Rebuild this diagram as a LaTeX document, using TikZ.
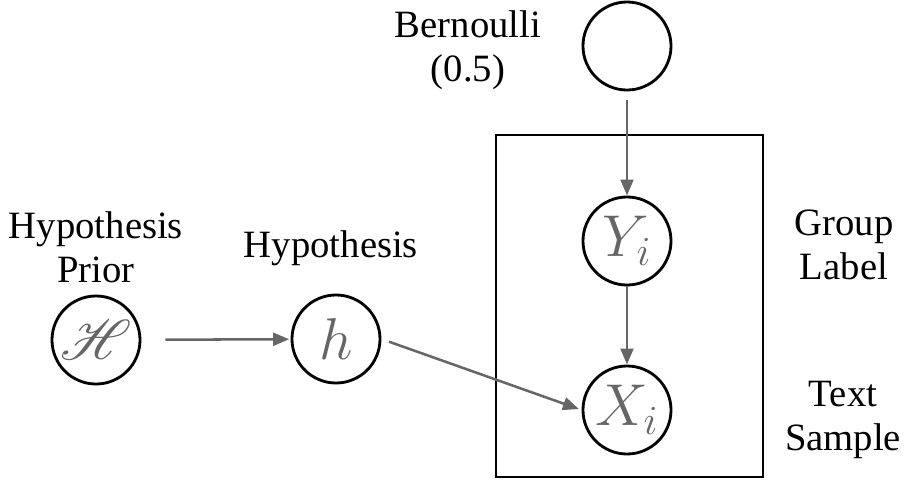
\RequirePackage{fix-cm}
\documentclass[tikz,border=0pt]{standalone}
\usepackage{fontspec}
\setmainfont{Liberation Serif}
\usepackage{mathrsfs}
\DeclareFontFamily{U}{rsfs}{\skewchar\font127 }
\DeclareFontShape{U}{rsfs}{m}{n}{<-> rsfs10}{}
\usetikzlibrary{positioning, arrows.meta}
\definecolor{edgegray}{HTML}{666666}
\tikzset{
  % random variable
  rv/.style={
    draw, circle, line width=2pt,
    minimum size=2.2cm, inner sep=0pt,
    text=edgegray, font=\fontsize{42}{42}\selectfont
  },
  % side text
  caption/.style={
    align=center, font=\fontsize{27.5}{31}\selectfont
  },
  % plate
  plate/.style={
    draw, line width=2pt
  },
  % dependency arrow
  dep/.style={
    -{Triangle[length=0.4cm, width=0.32cm]},
    draw=edgegray, line width=1.8pt
  },
}

\begin{document}
\begin{tikzpicture}[x=0.025cm, y=-0.025cm]
  \useasboundingbox (0,0) rectangle (904,481);

  %% -- Nodes --
  \node[rv, label={[text=edgegray, font=\fontsize{40}{40}\selectfont]center:{$\mathscr{H}$}}] (prior) at (96,340) {};
  \node[rv] (hyp)   at (336,339) {$h$};
  \node[rv] (bern)  at (627,46)  {};
  \node[rv] (ylab)  at (627,241) {$Y_i$};
  \node[rv] (xsamp) at (627,410) {$X_i$};

  %% -- Plate --
  \draw[plate] (496,135) rectangle (763,477);

  %% -- Captions --
  \node[caption] (priorTxt) at (96,247)  {Hypothesis\\Prior};
  \node[caption] (hypTxt)   at (331,248) {Hypothesis};
  \node[caption] (bernTxt)  at (468,50)  {Bernoulli\\(0.5)};
  \node[caption] (ylabTxt)  at (844,245) {Group\\Label};
  \node[caption] (xsampTxt) at (843,420) {Text\\Sample};

  %% -- Dependencies --
  \draw[dep, shorten <=0.6cm, shorten >=1pt] (prior) -- (hyp);
  \draw[dep, shorten <=0.2cm, shorten >=2pt] (hyp.east) -- (xsamp.west);
  \draw[dep, shorten <=0.22cm] (bern) -- (ylab);
  \draw[dep] (ylab) -- (xsamp);

\end{tikzpicture}
\end{document}
